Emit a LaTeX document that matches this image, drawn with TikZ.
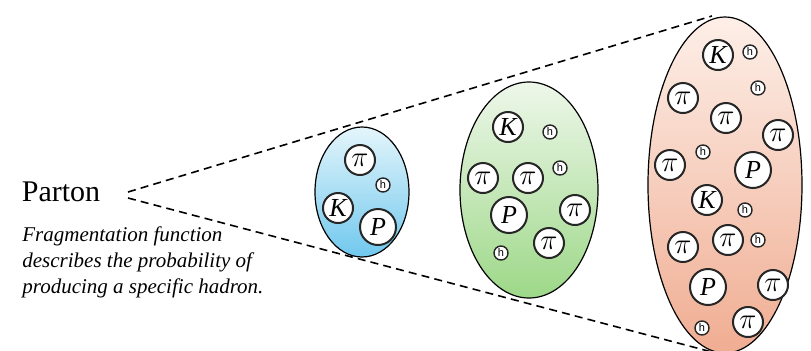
\documentclass[tikz,border=0pt]{standalone}
\usepackage{fontspec}
\setmainfont{Liberation Serif}
\newfontfamily\hfont{Liberation Sans}
\usetikzlibrary{shapes.geometric}

\definecolor{blueTop}{HTML}{E4F5FB}
\definecolor{blueBot}{HTML}{70C8EE}
\definecolor{greenTop}{HTML}{EEF7EA}
\definecolor{greenBot}{HTML}{9DD888}
\definecolor{peachTop}{HTML}{FDEFE8}
\definecolor{peachBot}{HTML}{F0AD92}

\newcommand{\pion}{{\fontsize{14.5}{14.5}\selectfont$\pi$}}

\tikzset{
	jet/.style={ellipse,draw,line width=0.6pt,inner sep=0pt},
	had/.style={circle,draw=black!85,fill=white,line width=1pt,inner sep=0pt,minimum size=15pt,font=\fontsize{13}{13}\selectfont\itshape},
	prot/.style={had,minimum size=18pt},
	hsmall/.style={circle,draw=black!85,fill=white,line width=0.7pt,inner sep=0pt,minimum size=7pt,font=\fontsize{5.5}{5.5}\selectfont\hfont},
	cone/.style={dashed,line width=0.8pt,dash pattern=on 4pt off 2.6pt}
}

\begin{document}
\begin{tikzpicture}[x=0.5pt,y=-0.5pt]
			\useasboundingbox(0,0)rectangle(811,350);
			\clip(0,0)rectangle(811,350);
			\node(parton)at(61,192){\fontsize{15}{15}\selectfont Parton};
			\node[anchor=north west,align=left,inner sep=0pt,font=\fontsize{10.5}{13}\selectfont\itshape](ffdesc)at(22,226){Fragmentation function\\describes the probability of\\producing a specific hadron.};
			\coordinate(apexU)at(128,192);
			\coordinate(apexL)at(128,198);
			\coordinate(farU)at(712,16);
			\coordinate(farL)at(712,352);
			\draw[cone](apexU)--(farU);
			\draw[cone](apexL)--(farL);
			\node[jet,top color=blueTop,bottom color=blueBot,minimum width=47pt,minimum height=65pt](jetA)at(362,192){};
			\node[jet,top color=greenTop,bottom color=greenBot,minimum width=69pt,minimum height=108pt](jetB)at(529,190){};
			\node[jet,top color=peachTop,bottom color=peachBot,minimum width=77pt,minimum height=168pt](jetC)at(725,185){};
			\node[had](a1)at(360,160){\pion};
			\node[hsmall](a2)at(383,185){h};
			\node[had](a3)at(338,208){K};
			\node[prot](a4)at(378,227){P};
			\node[had](b1)at(508,127){K};
			\node[hsmall](b2)at(550,132){h};
			\node[had](b3)at(483,178){\pion};
			\node[had](b4)at(528,178){\pion};
			\node[hsmall](b5)at(560,168){h};
			\node[prot](b6)at(509,215){P};
			\node[had](b7)at(575,210){\pion};
			\node[had](b8)at(549,243){\pion};
			\node[hsmall](b9)at(501,253){h};
			\node[had](c1)at(718,55){K};
			\node[hsmall](c2)at(750,52){h};
			\node[hsmall](c3)at(758,88){h};
			\node[had](c4)at(683,98){\pion};
			\node[had](c5)at(726,118){\pion};
			\node[had](c6)at(778,135){\pion};
			\node[hsmall](c7)at(703,152){h};
			\node[had](c8)at(670,165){\pion};
			\node[prot](c9)at(753,170){P};
			\node[had](c10)at(707,200){K};
			\node[hsmall](c11)at(745,210){h};
			\node[had](c12)at(683,247){\pion};
			\node[had](c13)at(728,240){\pion};
			\node[hsmall](c14)at(758,240){h};
			\node[prot](c15)at(708,287){P};
			\node[had](c16)at(773,285){\pion};
			\node[had](c17)at(748,322){\pion};
			\node[hsmall](c18)at(702,328){h};
\end{tikzpicture}
\end{document}
